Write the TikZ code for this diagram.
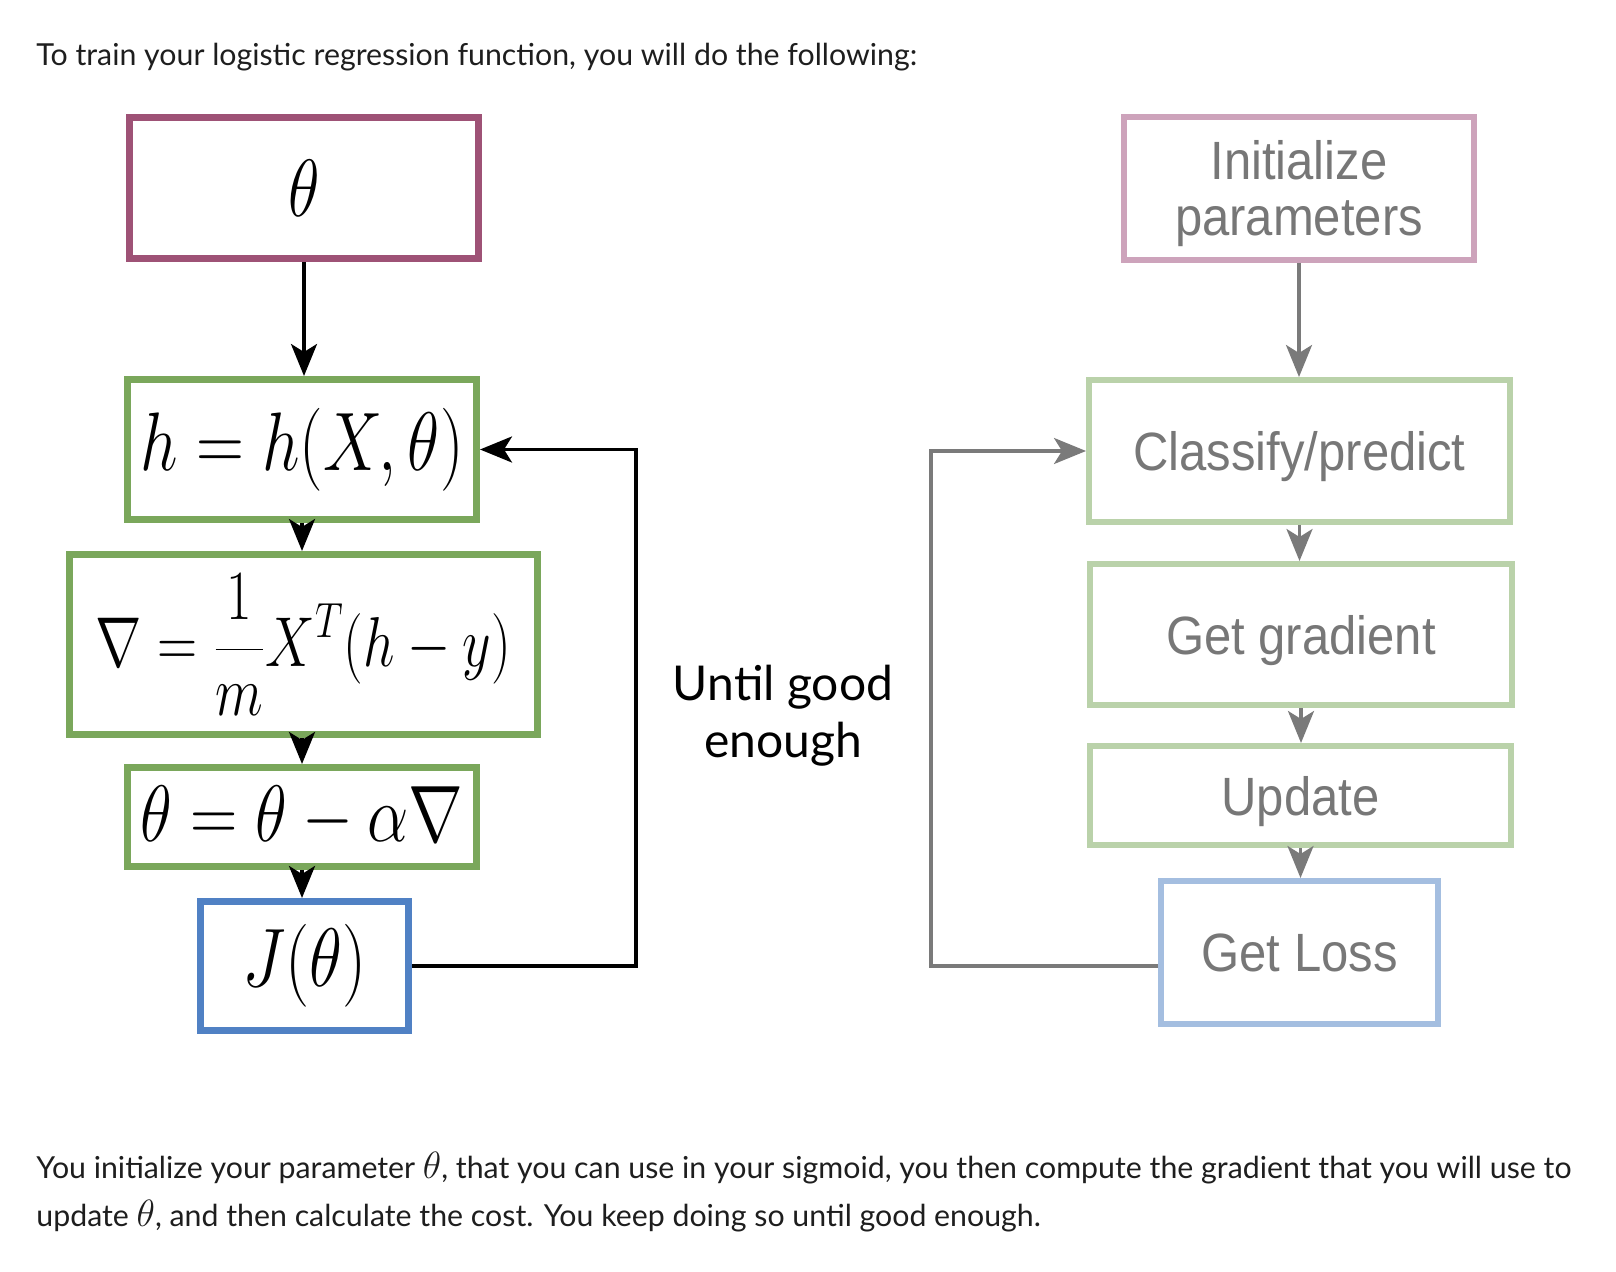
\RequirePackage{fix-cm}
\documentclass[tikz,border=0pt]{standalone}
\usepackage{fontspec}
\usepackage{graphicx}
\setmainfont{Lato}
\newfontfamily\arialfont{Liberation Sans}
\usetikzlibrary{arrows.meta,calc}
\definecolor{thetaC}{RGB}{158,82,118}
\definecolor{greenC}{RGB}{122,167,91}
\definecolor{blueC}{RGB}{80,129,196}
\definecolor{pinkL}{RGB}{205,163,187}
\definecolor{greenL}{RGB}{186,210,170}
\definecolor{blueL}{RGB}{164,190,224}
\definecolor{grayT}{RGB}{119,119,119}
\definecolor{grayA}{RGB}{122,122,122}
\definecolor{bodyC}{RGB}{30,30,30}
\tikzset{
  lbox/.style={draw, line width=3.5pt, inner sep=0pt, rectangle},
  rbox/.style={draw, line width=3pt, inner sep=0pt, rectangle, text=grayT,
    font=\arialfont\fontsize{24.5pt}{25.4pt}\selectfont},
  rboxone/.style={rbox, text depth=0pt},
  larr/.style={draw=black, line width=1.75pt, -{Stealth[length=16pt,width=13pt,inset=4pt]}},
  garr/.style={draw=grayA, line width=1.6pt, -{Stealth[length=16pt,width=13pt,inset=4pt]}},
  bodytext/.style={inner sep=0pt, text=bodyC, font=\fontsize{15.15pt}{24pt}\selectfont},
  untiltext/.style={inner sep=0pt, text=black, align=center, font=\fontsize{24pt}{28.5pt}\selectfont}
}
\newcommand{\vstr}[2][1.25]{\scalebox{1}[#1]{#2}}
\newcommand{\bth}{{\fontsize{19pt}{24pt}\selectfont$\theta$}}
\begin{document}
\begin{tikzpicture}[x=0.5pt,y=-0.5pt]
\useasboundingbox (0,0) rectangle (1616,1272);
\fill[white] (0,0) rectangle (1616,1272);

% top and bottom texts
\node[bodytext, anchor=base west] (toptext) at (36,66) {To train your logistic regression function, you will do the following:};
\node[bodytext, anchor=base west] (bot1) at (36,1178) {You initialize your parameter \bth, that you can use in your sigmoid, you then compute the gradient that you will use to};
\node[bodytext, anchor=base west] (bot2) at (36,1226) {update \bth, and then calculate the cost. You keep doing so until good enough.};

% left column
\node[lbox, draw=thetaC, minimum width=174.5pt, minimum height=70.5pt, font=\fontsize{32.5pt}{38pt}\selectfont] (theta) at (304,188) {\vstr{$\theta$}};
\node[lbox, draw=greenC, minimum width=174.5pt, minimum height=70pt, font=\fontsize{33.2pt}{38pt}\selectfont] (h) at (302,449.5) {\vstr{$h=h(X,\theta)$}};
\node[lbox, draw=greenC, minimum width=234pt, minimum height=90pt, font=\fontsize{27.8pt}{32pt}\selectfont] (grad) at (303.5,644.5) {\vstr[1.27]{$\displaystyle \nabla=\frac{1}{m}X^{T}(h-y)$}};
\node[lbox, draw=greenC, minimum width=174.5pt, minimum height=49.5pt, font=\fontsize{32.8pt}{38pt}\selectfont] (upd) at (302,817) {\vstr[1.22]{$\theta=\theta-\alpha\nabla$}};
\node[lbox, draw=blueC, minimum width=104pt, minimum height=64.5pt, font=\fontsize{34pt}{38pt}\selectfont] (J) at (304.5,966) {\vstr[1.22]{$J(\theta)$}};

\node[untiltext] (until) at (783,716) {Until good\\enough};

% right column
\node[rbox, draw=pinkL, minimum width=175pt, minimum height=71.5pt] (init) at (1299,188.5) {\raisebox{-10.8pt}[0pt][0pt]{\vstr[1.1]{\begin{tabular}{@{}c@{}}Initialize\\parameters\end{tabular}}}};
\node[rboxone, draw=greenL, minimum width=210.5pt, minimum height=71pt] (cls) at (1299.5,451) {\vstr[1.1]{Classify/predict}};
\node[rboxone, draw=greenL, minimum width=211pt, minimum height=70.5pt] (ggr) at (1301,634.5) {\vstr[1.1]{Get gradient}};
\node[rboxone, draw=greenL, minimum width=210.5pt, minimum height=49.5pt] (upr) at (1300.5,795.5) {\vstr[1.1]{Update}};
\node[rboxone, draw=blueL, minimum width=138.5pt, minimum height=71.5pt] (loss) at (1299.5,952.5) {\vstr[1.1]{Get Loss}};

% left connectors
\coordinate (fbL) at (636,0);
\draw[larr] (theta.south) -- (theta.south |- h.north);
\draw[larr] (h.south) -- (h.south |- grad.north);
\draw[larr] (h.south |- grad.south) -- (h.south |- upd.north);
\draw[larr] (upd.south) -- (upd.south |- J.north);
\draw[larr] (J.east) -- (J.east -| fbL) -- (h.east -| fbL) -- (h.east);

% right connectors
\coordinate (fbR) at (931,0);
\coordinate (lossout) at ($(loss.west)+(0,13.5)$);
\draw[garr] (init.south) -- (init.south |- cls.north);
\draw[garr] (cls.south) -- (cls.south |- ggr.north);
\draw[garr] (ggr.south) -- (ggr.south |- upr.north);
\draw[garr] (upr.south) -- (upr.south |- loss.north);
\draw[garr] (lossout) -- (lossout -| fbR) -- (cls.west -| fbR) -- (cls.west);
\end{tikzpicture}
\end{document}
